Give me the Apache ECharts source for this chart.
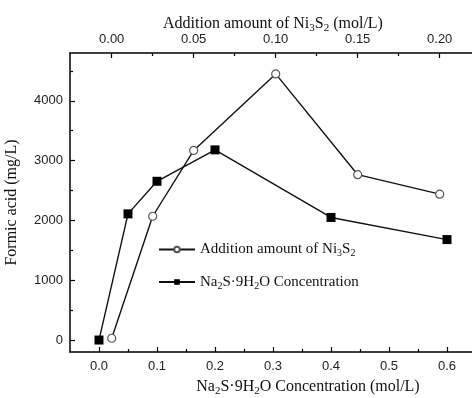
<!DOCTYPE html>
<html>
<head>
<meta charset="utf-8">
<script src="https://cdn.jsdelivr.net/npm/echarts@6/dist/echarts.min.js"></script>
<style>html,body{margin:0;padding:0;background:#fff}#c{width:472px;height:398px}</style>
</head>
<body>
<div id="c"></div>
<script>
// Ni3S2 series (top axis)
const ni3s2X = [0.00, 0.025, 0.05, 0.10, 0.15, 0.20];
const ni3s2Y = [30, 2070, 3170, 4450, 2765, 2440];
// Na2S·9H2O series (bottom axis)
const na2sX = [0.0, 0.05, 0.1, 0.2, 0.4, 0.6];
const na2sY = [0, 2110, 2655, 3180, 2050, 1680];
// tick labels
const bottomTicks = [0, 0.1, 0.2, 0.3, 0.4, 0.5, 0.6];
const bottomMinor = [0.05, 0.15, 0.25, 0.35, 0.45, 0.55];
const topTicks = [0, 0.05, 0.10, 0.15, 0.20];
const topMinor = [0.025, 0.075, 0.125, 0.175];
const yTicks = [0, 1000, 2000, 3000, 4000];
const yMinor = [500, 1500, 2500, 3500, 4500];

const serif = 'Liberation Serif, Times New Roman, serif';
const sans = 'Liberation Sans, Arial, sans-serif';
const sub = {fontSize: 11, fontFamily: serif, color: '#111', padding: [9, 0, 0, 0]};
const richBase = {fontFamily: serif, fontSize: 16, color: '#111'};

const chart = echarts.init(document.getElementById('c'));
const axisLine = {show: true, onZero: false, lineStyle: {color: '#000', width: 1.5}};
const noLine = {show: false, onZero: false};
const bMin = -0.05, bMax = 0.65;
const tMin = -41.7 * 0.05 / 82, tMax = tMin + 406 * 0.05 / 82;
const yMin = -200, yMax = 4800;
const tickLbl = {fontFamily: sans, fontSize: 13, color: '#222'};

chart.setOption({
  animation: false,
  backgroundColor: '#fff',
  grid: {left: 70, top: 53, width: 406, bottom: 46, containLabel: false, outerBoundsMode: 'none'},
  legend: {
    orient: 'vertical', left: 153, top: 237, itemWidth: 36, itemHeight: 7, itemGap: 16,
    data: ['ni', 'na'],
    formatter: function (n) {
      return n === 'ni' ? 'Addition amount of Ni{s|3}S{s|2}' : 'Na{s|2}S·9H{s|2}O Concentration';
    },
    textStyle: {fontFamily: serif, fontSize: 15, color: '#111', rich: {s: {fontSize: 10, fontFamily: serif, color: '#111', padding: [8, 0, 0, 0]}}}
  },
  xAxis: [
    {type: 'value', position: 'bottom', min: bMin, max: bMax, axisLine: axisLine, splitLine: {show: false},
      axisTick: {show: true, inside: true, length: 5, lineStyle: {color: '#000', width: 1.2}, customValues: bottomTicks},
      axisLabel: Object.assign({customValues: bottomTicks, margin: 8, formatter: v => v.toFixed(1)}, tickLbl),
      name: 'Na{s|2}S·9H{s|2}O Concentration (mol/L)', nameLocation: 'middle', nameGap: 25, nameMoveOverlap: false,
      nameTextStyle: Object.assign({}, richBase, {padding: [0, 0, 0, 70], rich: {s: sub}})},
    {type: 'value', position: 'top', min: tMin, max: tMax, axisLine: axisLine, splitLine: {show: false},
      axisTick: {show: true, inside: true, length: 5, lineStyle: {color: '#000', width: 1.2}, customValues: topTicks},
      axisLabel: Object.assign({customValues: topTicks, margin: 7, formatter: v => v.toFixed(2)}, tickLbl),
      name: 'Addition amount of Ni{s|3}S{s|2} (mol/L)', nameLocation: 'middle', nameGap: 19, nameMoveOverlap: false,
      nameTextStyle: Object.assign({}, richBase, {rich: {s: sub}})},
    {type: 'value', position: 'bottom', min: bMin, max: bMax, axisLine: noLine, splitLine: {show: false},
      axisTick: {show: true, inside: true, length: 3, lineStyle: {color: '#000', width: 1.2}, customValues: bottomMinor},
      axisLabel: {show: false}},
    {type: 'value', position: 'top', min: tMin, max: tMax, axisLine: noLine, splitLine: {show: false},
      axisTick: {show: true, inside: true, length: 3, lineStyle: {color: '#000', width: 1.2}, customValues: topMinor},
      axisLabel: {show: false}}
  ],
  yAxis: [
    {type: 'value', position: 'left', min: yMin, max: yMax, axisLine: axisLine, splitLine: {show: false},
      axisTick: {show: true, inside: true, length: 5, lineStyle: {color: '#000', width: 1.2}, customValues: yTicks},
      axisLabel: Object.assign({customValues: yTicks, margin: 7, formatter: v => String(v)}, tickLbl),
      name: 'Formic acid (mg/L)', nameLocation: 'middle', nameGap: 50, nameMoveOverlap: false,
      nameTextStyle: {fontFamily: serif, fontSize: 16, color: '#111'}},
    {type: 'value', position: 'left', min: yMin, max: yMax, axisLine: noLine, splitLine: {show: false},
      axisTick: {show: true, inside: true, length: 3, lineStyle: {color: '#000', width: 1.2}, customValues: yMinor},
      axisLabel: {show: false}}
  ],
  series: [
    {name: 'ni', type: 'line', xAxisIndex: 1, yAxisIndex: 0,
      data: ni3s2X.map((x, i) => [x, ni3s2Y[i]]),
      symbol: 'circle', symbolSize: 8,
      lineStyle: {color: '#111', width: 1.4},
      itemStyle: {color: '#fff', borderColor: '#555', borderWidth: 1.2}},
    {name: 'na', type: 'line', xAxisIndex: 0, yAxisIndex: 0,
      data: na2sX.map((x, i) => [x, na2sY[i]]),
      symbol: 'rect', symbolSize: 9,
      lineStyle: {color: '#111', width: 1.4},
      itemStyle: {color: '#000', borderColor: '#000', borderWidth: 0}}
  ]
});
</script>
</body>
</html>
